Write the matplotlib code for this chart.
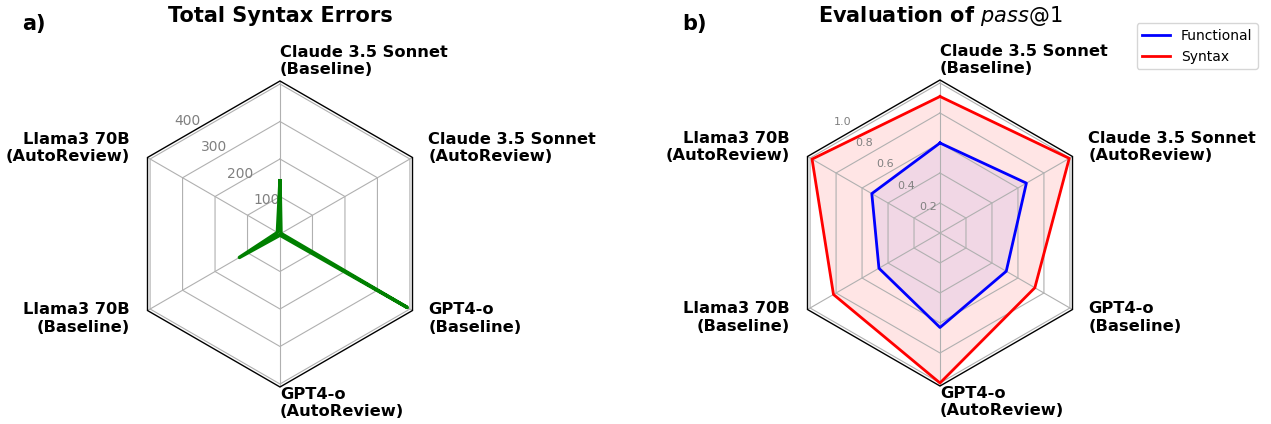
import numpy as np
import matplotlib
matplotlib.use("Agg")
import matplotlib.pyplot as plt
from matplotlib.patches import RegularPolygon
from matplotlib.path import Path
from matplotlib.projections.polar import PolarAxes
from matplotlib.projections import register_projection
from matplotlib.spines import Spine
from matplotlib.transforms import Affine2D

# ---------------- data ----------------
categories = [
    "Claude 3.5 Sonnet\n(Baseline)",
    "Claude 3.5 Sonnet\n(AutoReview)",
    "GPT4-o\n(Baseline)",
    "GPT4-o\n(AutoReview)",
    "Llama3 70B\n(Baseline)",
    "Llama3 70B\n(AutoReview)",
]
syntax_errors = [142, 3, 392, 3, 125, 8]
error_ticks = [100, 200, 300, 400]

pass_functional = [0.60, 0.665, 0.51, 0.63, 0.47, 0.525]
pass_syntax = [0.91, 0.995, 0.73, 1.0, 0.82, 0.985]
pass_ticks = [0.2, 0.4, 0.6, 0.8, 1.0]


def radar_factory(num_vars):
    theta = np.linspace(0, 2 * np.pi, num_vars, endpoint=False)

    class RadarTransform(PolarAxes.PolarTransform):
        def transform_path_non_affine(self, path):
            if path._interpolation_steps > 1:
                path = path.interpolated(num_vars)
            return Path(self.transform(path.vertices), path.codes)

    class RadarAxes(PolarAxes):
        name = "radar"
        PolarTransform = RadarTransform

        def __init__(self, *args, **kwargs):
            super().__init__(*args, **kwargs)
            self.set_theta_zero_location("N")

        def fill(self, *args, closed=True, **kwargs):
            return super().fill(closed=closed, *args, **kwargs)

        def plot(self, *args, **kwargs):
            lines = super().plot(*args, **kwargs)
            for line in lines:
                x, y = line.get_data()
                if x[0] != x[-1]:
                    x = np.append(x, x[0])
                    y = np.append(y, y[0])
                    line.set_data(x, y)
            return lines

        def _gen_axes_patch(self):
            return RegularPolygon((0.5, 0.5), num_vars, radius=0.5, edgecolor="k")

        def _gen_axes_spines(self):
            spine = Spine(axes=self, spine_type="circle",
                          path=Path.unit_regular_polygon(num_vars))
            spine.set_transform(Affine2D().scale(0.5).translate(0.5, 0.5) + self.transAxes)
            return {"polar": spine}

    register_projection(RadarAxes)
    return theta


theta = radar_factory(len(categories))

W, H = 1271, 424
fig = plt.figure(figsize=(W / 100, H / 100), dpi=100)

size = 306
ax1 = fig.add_axes([(280 - size / 2) / W, (H - 234 - size / 2) / H, size / W, size / H],
                   projection="radar")
ax2 = fig.add_axes([(940 - size / 2) / W, (H - 233 - size / 2) / H, size / W, size / H],
                   projection="radar")

label_pos = [
    (0.5, 1.013, "left", "bottom"),
    (0.985, 0.781, "left", "center"),
    (0.985, 0.224, "left", "center"),
    (0.5, 0.0, "left", "top"),
    (0.010, 0.224, "right", "center"),
    (0.010, 0.781, "right", "center"),
]

for ax in (ax1, ax2):
    ax.set_theta_direction(-1)
    ax.set_xticks(theta)
    ax.set_xticklabels([])
    ax.set_rlabel_position(315)
    ax.spines["polar"].set_color("black")
    ax.spines["polar"].set_linewidth(1.0)
    for (x, y, ha, va), lab in zip(label_pos, categories):
        ax.text(x, y, lab, transform=ax.transAxes, ha=ha, va=va,
                fontsize=11.7, fontweight="bold", multialignment=ha)

# Left chart
ax1.plot(theta, syntax_errors, color="green", linewidth=2.5)
ax1.set_rgrids(error_ticks)
ax1.set_ylim(0, 408)
ax1.tick_params(axis="y", labelcolor="grey", labelsize=10)

# Right chart
ax2.fill(theta, pass_functional, color="blue", alpha=0.06)
ax2.fill(theta, pass_syntax, color="red", alpha=0.1)
ax2.plot(theta, pass_functional, color="blue", linewidth=2, label="Functional")
ax2.plot(theta, pass_syntax, color="red", linewidth=2, label="Syntax")
ax2.set_rgrids(pass_ticks)
ax2.set_ylim(0, 1.02)
ax2.tick_params(axis="y", labelcolor="grey", labelsize=8)
ax2.legend(loc="upper right", bbox_to_anchor=(1258 / W, 1 - 23 / H),
           bbox_transform=fig.transFigure, borderaxespad=0, fontsize=10)

# Titles and panel letters
fig.text(280 / W, 1 - 22.5 / H, "Total Syntax Errors", ha="center", va="baseline",
         fontsize=15, fontweight="bold")
fig.text(940 / W, 1 - 22.5 / H, r"Evaluation of $pass@1$", ha="center", va="baseline",
         fontsize=15, fontweight="bold")
fig.text(22 / W, 1 - 30 / H, "a)", ha="left", va="baseline", fontsize=15, fontweight="bold")
fig.text(682 / W, 1 - 30 / H, "b)", ha="left", va="baseline", fontsize=15, fontweight="bold")

fig.savefig("out.png", dpi=100)
